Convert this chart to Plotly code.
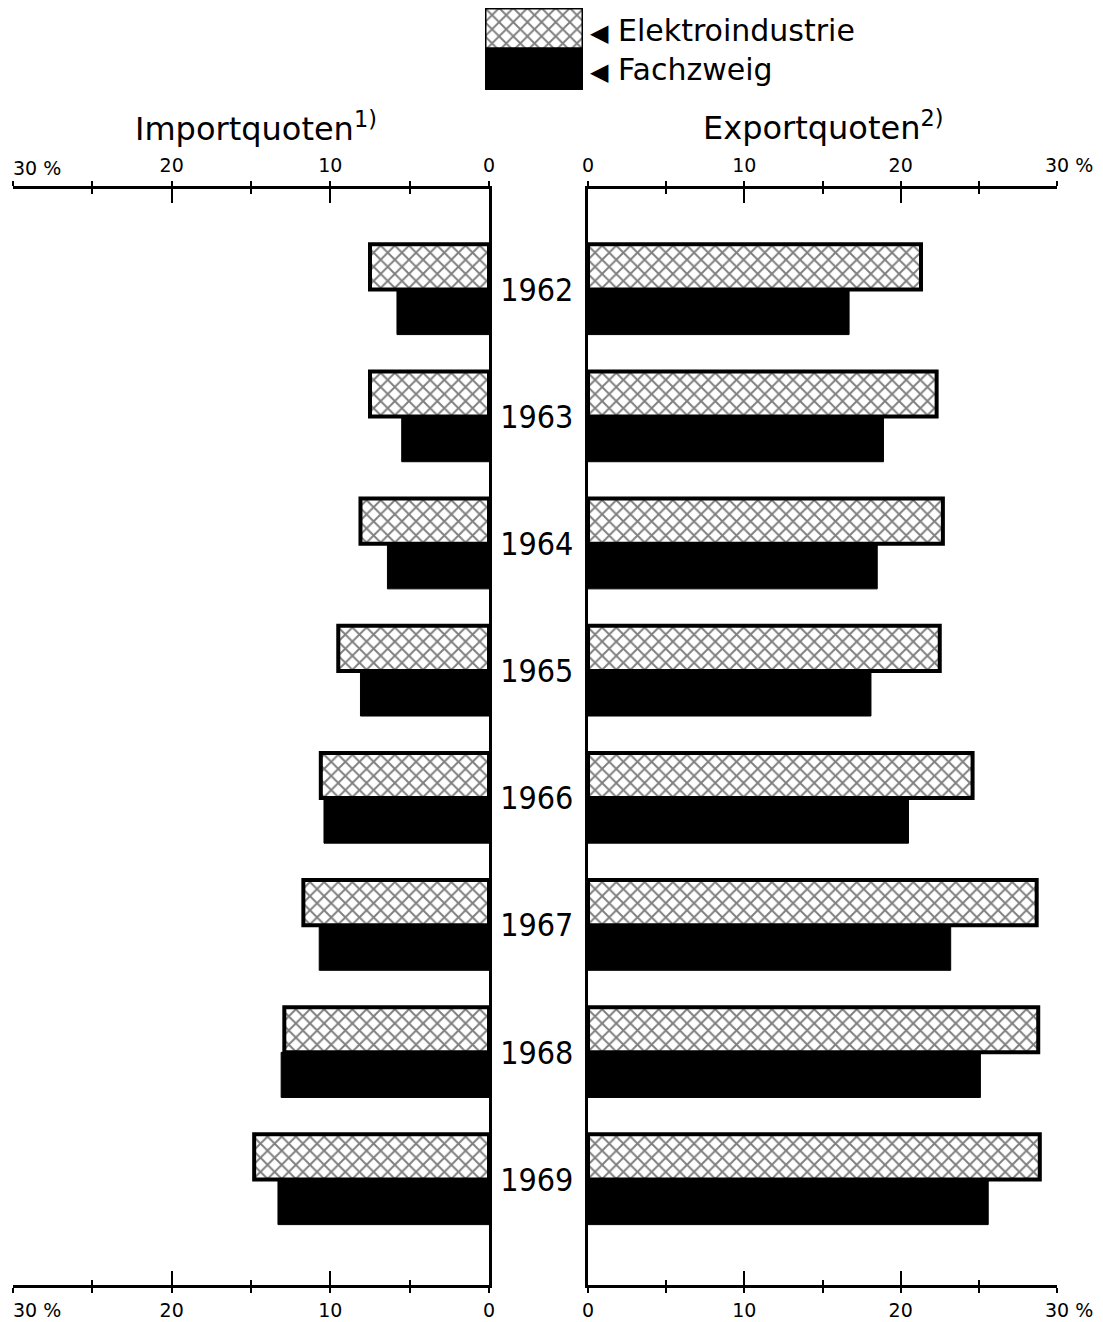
import plotly.graph_objects as go

# ---- data ----
years = ["1962", "1963", "1964", "1965", "1966", "1967", "1968", "1969"]
import_elektro = [7.5, 7.5, 8.1, 9.5, 10.6, 11.7, 12.9, 14.8]
import_fach = [5.8, 5.5, 6.4, 8.1, 10.4, 10.7, 13.1, 13.3]
export_elektro = [21.3, 22.3, 22.7, 22.5, 24.6, 28.7, 28.8, 28.9]
export_fach = [16.7, 18.9, 18.5, 18.1, 20.5, 23.2, 25.1, 25.6]
series_names = ["Elektroindustrie", "Fachzweig"]
tick_vals = [0, 10, 20, 30]
minor_vals = [5, 15, 25]
end_label = "30 %"
left_ticktext = ["0", "10", "20", ""]          # "30 %" placed left-aligned at its tick
right_ticktext = ["0", "10", "20", "\u00a0" * 4 + end_label]

FONT = "DejaVu Sans, sans-serif"
COND = "DejaVu Sans Condensed, DejaVu Sans, sans-serif"

# page body has an 8px margin; figure is sized to fit the window
OFF = 8
W, H = 1103 - OFF, 1322 - OFF
def px(x):
    return (x - OFF) / W
def py(y):
    return 1 - (y - OFF) / H

pattern = dict(shape="x", fgcolor="black", bgcolor="white", size=10, solidity=0.35)
hatch = dict(color="white", line=dict(color="black", width=4), pattern=pattern)
solid = dict(color="black", line=dict(color="black", width=1))

fig = go.Figure()
# left panel (imports)
fig.add_trace(go.Bar(y=years, x=import_elektro, orientation="h", marker=hatch,
                     xaxis="x", yaxis="y", name=series_names[0]))
fig.add_trace(go.Bar(y=years, x=import_fach, orientation="h", marker=solid,
                     xaxis="x", yaxis="y", name=series_names[1]))
# right panel (exports)
fig.add_trace(go.Bar(y=years, x=export_elektro, orientation="h", marker=hatch,
                     xaxis="x2", yaxis="y2", name=series_names[0]))
fig.add_trace(go.Bar(y=years, x=export_fach, orientation="h", marker=solid,
                     xaxis="x2", yaxis="y2", name=series_names[1]))
# invisible traces so the top (overlaying) axes get drawn
fig.add_trace(go.Scatter(y=years, x=import_elektro, xaxis="x3", yaxis="y", mode="markers",
                         marker=dict(opacity=0), hoverinfo="skip"))
fig.add_trace(go.Scatter(y=years, x=export_elektro, xaxis="x4", yaxis="y2", mode="markers",
                         marker=dict(opacity=0), hoverinfo="skip"))
# legend box
fig.add_trace(go.Bar(y=[series_names[0]], x=[1], orientation="h", width=1, offset=-0.5,
                     marker=dict(color="white", line=dict(color="black", width=3),
                                 pattern=pattern),
                     xaxis="x5", yaxis="y5"))
fig.add_trace(go.Bar(y=[series_names[1]], x=[1], orientation="h", width=1, offset=-0.5,
                     marker=dict(color="black", line=dict(color="black", width=3)),
                     xaxis="x5", yaxis="y5"))

ydom = [py(1285), py(189)]
yrange = [7.83, -0.79]
tickfont = dict(family=FONT, size=19, color="black")

def bottom_axis(dom, rng, ttext, anchor):
    return dict(domain=dom, range=rng, anchor=anchor, side="bottom", showline=True,
                linewidth=2.5, linecolor="black", showgrid=False, zeroline=False,
                tickmode="array", tickvals=tick_vals, ticktext=ttext,
                ticks="inside", ticklen=14, tickwidth=2, tickcolor="black",
                minor=dict(tickmode="array", tickvals=minor_vals, ticks="inside",
                           ticklen=5, tickwidth=2, tickcolor="black"),
                mirror="ticks", tickfont=tickfont, fixedrange=True, automargin=False,
                ticklabeloverflow="allow", ticklabelstandoff=6)

def top_axis(over, rng, ttext, anchor):
    return dict(overlaying=over, range=rng, anchor=anchor, side="top", showline=True,
                linewidth=2.5, linecolor="black", showgrid=False, zeroline=False,
                tickmode="array", tickvals=tick_vals, ticktext=ttext,
                ticks="outside", ticklen=5, tickwidth=2, tickcolor="black",
                minor=dict(tickmode="array", tickvals=minor_vals, ticks="outside",
                           ticklen=5, tickwidth=2, tickcolor="black"),
                mirror="ticks", tickfont=tickfont, fixedrange=True, automargin=False,
                ticklabeloverflow="allow", ticklabelstandoff=2)

left_dom = [px(13), px(489)]
right_dom = [px(588), px(1057)]

fig.update_layout(
    width=W, height=H, margin=dict(l=0, r=0, t=0, b=0, autoexpand=False),
    paper_bgcolor="white", plot_bgcolor="rgba(0,0,0,0)", showlegend=False,
    barmode="group", bargap=0.29, bargroupgap=0,
    xaxis=bottom_axis(left_dom, [30, 0], left_ticktext, "y"),
    xaxis3=top_axis("x", [30, 0], left_ticktext, "y"),
    xaxis2=bottom_axis(right_dom, [0, 30], right_ticktext, "y2"),
    xaxis4=top_axis("x2", [0, 30], right_ticktext, "y2"),
    yaxis=dict(domain=ydom, type="category", range=yrange, anchor="x", side="right",
               showline=True, linewidth=2.5, linecolor="black", showgrid=False,
               ticks="", ticklabelstandoff=2, automargin=False,
               tickfont=dict(family=COND, size=32, color="black"), fixedrange=True),
    yaxis2=dict(domain=ydom, type="category", range=yrange, anchor="x2", side="left",
                showline=True, linewidth=2.5, linecolor="black", showgrid=False,
                showticklabels=False, ticks="", fixedrange=True, automargin=False),
    xaxis5=dict(domain=[px(485), px(583)], range=[0, 1], anchor="y5", visible=False,
                fixedrange=True, automargin=False),
    yaxis5=dict(domain=[py(90), py(8)], type="category", range=[1.5, -0.5],
                anchor="x5", visible=False, fixedrange=True, automargin=False),
)

# left-aligned "30 %" labels at the 30 tick of the import scale (top and bottom)
for yy in [py(168), py(1310)]:
    fig.add_annotation(text=end_label, x=tick_vals[-1], xref="x", y=yy, yref="paper",
                       showarrow=False, xanchor="left", yanchor="middle", xshift=-2,
                       font=tickfont)

annos = [
    dict(text="Importquoten<sup>1)</sup>", x=px(256), y=py(127)),
    dict(text="Exportquoten<sup>2)</sup>", x=px(823), y=py(126)),
]
for a in annos:
    fig.add_annotation(text=a["text"], x=a["x"], y=a["y"], xref="paper", yref="paper",
                       showarrow=False, xanchor="center", yanchor="middle",
                       font=dict(family=FONT, size=32, color="black"))

for name, yy in zip(series_names, [py(31), py(70)]):
    fig.add_annotation(text="<span style='font-size:24px'>◀</span> " + name,
                       x=px(588), y=yy, xref="paper", yref="paper", showarrow=False,
                       xanchor="left", yanchor="middle",
                       font=dict(family=FONT, size=30, color="black"))

fig.write_html("out.html")
